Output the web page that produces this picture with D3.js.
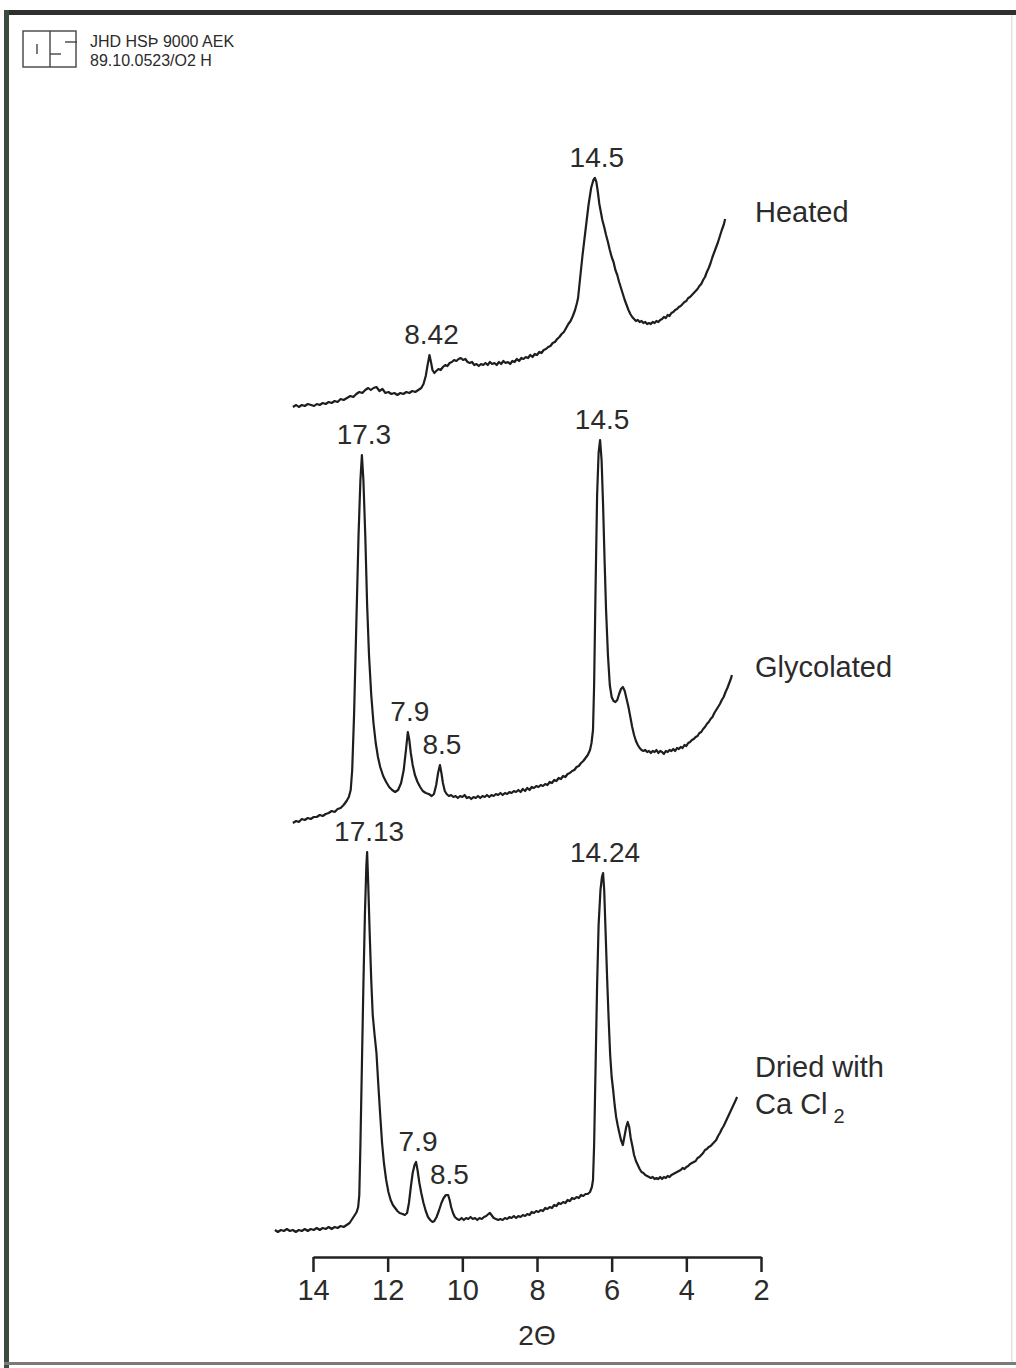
<!DOCTYPE html>
<html>
<head>
<meta charset="utf-8">
<script src="https://cdn.jsdelivr.net/npm/d3@7"></script>
<style>
  html, body { margin: 0; padding: 0; background: #fff; }
  svg { display: block; }
  text { font-family: "Liberation Sans", Arial, sans-serif; fill: #2b2b2b; }
</style>
</head>
<body>
<div id="chart"></div>
<script>
"use strict";

// x axis (2 theta, reversed) ticks
let twoThetaTicks = [14, 12, 10, 8, 6, 4, 2];

// scans as [2theta, intensity above the trace's own baseline]
let heatedScan = [
  [14.54,3],[14.45,5],[14.38,3],[14.3,5],[14.22,4],[14.14,6],[14.05,5],[13.97,4],[13.9,6],[13.82,5],
  [13.74,7],[13.66,6],[13.58,8],[13.5,7],[13.42,9],[13.34,8],[13.26,11],[13.18,10],[13.09,12],[13.0,14],
  [12.92,13],[12.84,16],[12.76,18],[12.68,17],[12.6,20],[12.52,22],[12.45,20],[12.38,22],[12.3,23],[12.22,19],
  [12.14,21],[12.06,17],[11.98,18],[11.9,16],[11.82,17],[11.74,15],[11.66,17],[11.58,16],[11.5,18],[11.42,17],
  [11.34,19],[11.26,18],[11.18,20],[11.1,22],[11.04,26],[10.98,34],[10.93,45],[10.88,55],[10.84,48],[10.8,40],
  [10.75,37],[10.7,39],[10.64,41],[10.58,40],[10.52,43],[10.46,45],[10.4,44],[10.34,47],[10.28,48],[10.22,50],
  [10.16,49],[10.1,51],[10.04,52],[9.98,50],[9.92,51],[9.86,48],[9.8,47],[9.74,48],[9.68,45],[9.62,46],
  [9.56,44],[9.5,46],[9.44,45],[9.38,47],[9.32,45],[9.26,48],[9.2,46],[9.14,47],[9.08,45],[9.02,48],
  [8.96,46],[8.9,49],[8.84,47],[8.78,48],[8.72,46],[8.66,49],[8.6,48],[8.54,51],[8.48,49],[8.42,52],
  [8.36,51],[8.3,53],[8.24,52],[8.18,55],[8.12,53],[8.06,56],[8.0,55],[7.94,58],[7.88,57],[7.82,60],
  [7.76,61],[7.7,63],[7.64,64],[7.58,67],[7.52,68],[7.46,71],[7.4,73],[7.34,76],[7.28,78],[7.22,82],
  [7.16,86],[7.1,89],[7.04,94],[6.98,100],[6.93,107],[6.9,112],[6.85,130],[6.78,155],[6.7,180],[6.62,205],
  [6.55,222],[6.49,230],[6.45,232],[6.41,228],[6.37,218],[6.33,206],[6.29,198],[6.25,190],[6.2,183],[6.15,175],
  [6.1,168],[6.05,160],[6.0,153],[5.95,148],[5.9,140],[5.85,135],[5.8,128],[5.75,122],[5.7,116],[5.65,110],
  [5.6,105],[5.55,100],[5.5,96],[5.45,93],[5.4,91],[5.35,89],[5.3,90],[5.25,88],[5.2,89],[5.15,87],
  [5.1,88],[5.05,86],[5.0,87],[4.95,86],[4.9,88],[4.85,87],[4.8,89],[4.75,88],[4.7,90],[4.65,91],
  [4.6,93],[4.55,92],[4.5,95],[4.45,94],[4.4,97],[4.35,98],[4.3,100],[4.25,101],[4.2,103],[4.15,104],
  [4.1,106],[4.05,108],[4.0,109],[3.95,112],[3.9,113],[3.85,115],[3.8,117],[3.75,119],[3.7,121],[3.65,124],
  [3.6,126],[3.55,130],[3.5,133],[3.45,138],[3.4,142],[3.35,147],[3.3,153],[3.25,158],[3.2,163],[3.15,168],
  [3.1,174],[3.05,180],[3.0,185],[2.96,191]
];

let glycolatedScan = [
  [14.54,2],[14.45,4],[14.38,3],[14.3,6],[14.22,5],[14.14,7],[14.06,6],[13.98,8],[13.9,8],[13.82,10],
  [13.74,9],[13.66,11],[13.58,12],[13.5,14],[13.42,13],[13.34,16],[13.26,17],[13.18,20],[13.1,24],[13.04,28],
  [12.99,35],[12.95,55],[12.9,110],[12.84,200],[12.78,290],[12.73,345],[12.69,370],[12.65,345],[12.6,290],[12.55,220],
  [12.5,170],[12.44,130],[12.38,102],[12.32,82],[12.26,68],[12.2,58],[12.12,49],[12.04,43],[11.96,38],[11.88,35],
  [11.8,33],[11.72,35],[11.64,42],[11.57,55],[11.51,75],[11.46,93],[11.42,85],[11.38,72],[11.33,60],[11.27,50],
  [11.2,43],[11.13,38],[11.06,34],[10.98,32],[10.9,31],[10.82,29],[10.76,31],[10.7,40],[10.65,52],[10.6,60],
  [10.56,52],[10.52,42],[10.47,34],[10.42,31],[10.36,29],[10.3,30],[10.24,28],[10.18,29],[10.12,27],[10.06,29],
  [10.0,28],[9.94,30],[9.88,27],[9.82,28],[9.76,26],[9.7,28],[9.64,27],[9.58,29],[9.52,27],[9.46,29],
  [9.4,28],[9.34,30],[9.28,28],[9.22,30],[9.16,29],[9.1,31],[9.04,30],[8.98,32],[8.92,30],[8.86,32],
  [8.8,31],[8.74,33],[8.68,32],[8.62,34],[8.56,33],[8.5,35],[8.44,33],[8.38,36],[8.32,34],[8.26,37],
  [8.2,35],[8.14,38],[8.08,37],[8.02,39],[7.96,38],[7.9,40],[7.84,39],[7.78,41],[7.72,40],[7.66,43],
  [7.6,42],[7.54,45],[7.48,44],[7.42,47],[7.36,46],[7.3,49],[7.24,48],[7.18,51],[7.12,52],[7.06,54],
  [7.0,55],[6.94,58],[6.88,59],[6.82,62],[6.76,64],[6.7,67],[6.64,70],[6.58,75],[6.54,82],[6.5,95],
  [6.47,140],[6.43,240],[6.39,330],[6.35,372],[6.31,385],[6.27,365],[6.23,320],[6.19,265],[6.15,215],[6.1,170],
  [6.05,140],[6.0,128],[5.95,124],[5.9,123],[5.85,125],[5.8,131],[5.75,136],[5.7,138],[5.65,134],[5.6,126],
  [5.55,118],[5.5,108],[5.45,98],[5.4,90],[5.35,84],[5.3,80],[5.25,77],[5.2,75],[5.15,74],[5.1,75],
  [5.05,73],[5.0,74],[4.95,72],[4.9,74],[4.85,73],[4.8,75],[4.75,72],[4.7,74],[4.65,73],[4.6,71],
  [4.55,74],[4.5,73],[4.45,75],[4.4,74],[4.35,76],[4.3,74],[4.25,77],[4.2,76],[4.15,78],[4.1,77],
  [4.05,80],[4.0,79],[3.95,82],[3.9,83],[3.85,85],[3.8,86],[3.75,88],[3.7,89],[3.65,92],[3.6,93],
  [3.55,96],[3.5,98],[3.45,101],[3.4,103],[3.35,106],[3.3,108],[3.25,112],[3.2,115],[3.15,118],[3.1,121],
  [3.05,125],[3.0,128],[2.95,133],[2.9,137],[2.85,142],[2.8,147],[2.78,150]
];

let driedScan = [
  [15.02,5],[14.94,3],[14.86,5],[14.78,4],[14.7,6],[14.62,4],[14.54,5],[14.46,3],[14.38,5],[14.3,4],
  [14.22,6],[14.14,4],[14.06,6],[13.98,5],[13.9,7],[13.82,5],[13.74,7],[13.66,6],[13.58,8],[13.5,6],
  [13.42,8],[13.34,7],[13.26,9],[13.18,8],[13.1,10],[13.02,12],[12.95,16],[12.88,20],[12.83,23],[12.79,28],
  [12.76,40],[12.73,90],[12.69,170],[12.65,250],[12.61,320],[12.57,370],[12.55,383],[12.52,350],[12.48,300],[12.44,255],
  [12.4,220],[12.35,200],[12.3,182],[12.25,150],[12.2,120],[12.15,92],[12.1,72],[12.04,55],[11.98,43],[11.92,35],
  [11.86,30],[11.8,27],[11.74,24],[11.68,22],[11.6,21],[11.54,20],[11.48,22],[11.43,32],[11.38,48],[11.33,62],
  [11.28,70],[11.24,73],[11.2,65],[11.15,52],[11.1,42],[11.04,32],[10.98,24],[10.92,18],[10.86,15],[10.8,13],
  [10.75,14],[10.69,18],[10.63,24],[10.56,32],[10.5,37],[10.44,40],[10.38,40],[10.34,35],[10.3,28],[10.25,22],
  [10.2,18],[10.14,16],[10.08,15],[10.02,17],[9.96,15],[9.9,17],[9.84,16],[9.78,18],[9.72,16],[9.66,17],
  [9.6,15],[9.54,17],[9.48,16],[9.42,18],[9.36,19],[9.3,21],[9.26,22],[9.22,20],[9.16,17],[9.1,16],
  [9.04,15],[8.98,16],[8.92,15],[8.86,17],[8.8,16],[8.74,18],[8.68,17],[8.62,19],[8.56,17],[8.5,19],
  [8.44,18],[8.38,20],[8.32,19],[8.26,21],[8.2,20],[8.14,23],[8.08,22],[8.02,24],[7.96,23],[7.9,25],
  [7.84,24],[7.78,27],[7.72,26],[7.66,28],[7.6,27],[7.54,30],[7.48,29],[7.42,32],[7.36,31],[7.3,33],
  [7.24,32],[7.18,35],[7.12,34],[7.06,37],[7.0,36],[6.94,38],[6.88,37],[6.82,40],[6.76,39],[6.7,41],
  [6.64,41],[6.58,43],[6.53,48],[6.5,55],[6.47,90],[6.43,170],[6.39,250],[6.35,310],[6.3,345],[6.26,358],
  [6.23,362],[6.2,345],[6.16,300],[6.12,255],[6.08,215],[6.04,180],[6.0,158],[5.96,145],[5.92,130],[5.88,118],
  [5.84,110],[5.8,103],[5.75,95],[5.7,90],[5.66,98],[5.61,108],[5.57,113],[5.53,108],[5.49,97],[5.44,88],
  [5.4,80],[5.35,74],[5.3,70],[5.25,66],[5.2,63],[5.15,62],[5.1,60],[5.05,59],[5.0,58],[4.95,57],
  [4.9,58],[4.85,56],[4.8,57],[4.75,56],[4.7,58],[4.65,56],[4.6,58],[4.55,57],[4.5,59],[4.45,58],
  [4.4,60],[4.35,61],[4.3,62],[4.25,63],[4.2,64],[4.15,65],[4.1,67],[4.05,66],[4.0,68],[3.95,69],
  [3.9,71],[3.85,72],[3.8,73],[3.75,74],[3.7,77],[3.65,78],[3.6,80],[3.55,82],[3.5,85],[3.45,86],
  [3.4,88],[3.35,89],[3.3,91],[3.25,93],[3.2,95],[3.15,99],[3.1,102],[3.05,106],[3.0,109],[2.95,113],
  [2.9,117],[2.85,121],[2.8,125],[2.75,129],[2.7,133],[2.64,138]
];

// peak labels (d-spacing in angstrom) and the 2theta where they sit
let heatedPeaks = [["14.5", 6.45], ["8.42", 10.88]];
let glycolatedPeaks = [["17.3", 12.69], ["14.5", 6.31], ["7.9", 11.46], ["8.5", 10.6]];
let driedPeaks = [["17.13", 12.55], ["14.24", 6.23], ["7.9", 11.24], ["8.5", 10.4]];

let scans = [
  { name: ["Heated"], data: heatedScan, peaks: heatedPeaks, base: 410, labelY: 222 },
  { name: ["Glycolated"], data: glycolatedScan, peaks: glycolatedPeaks, base: 825, labelY: 677 },
  { name: ["Dried with", "Ca Cl"], data: driedScan, peaks: driedPeaks, base: 1235, labelY: 1077 }
];

let width = 1016, height = 1368;
let svg = d3.select("#chart").append("svg").attr("width", width).attr("height", height);

// scanned page frame
svg.append("rect").attr("width", width).attr("height", height).style("fill", "#ffffff");
svg.append("rect").attr("x", 4).attr("y", 10).attr("width", width - 4).attr("height", 5).style("fill", "#2f302e");
svg.append("rect").attr("x", 4).attr("y", 10).attr("width", 5).attr("height", height - 10).style("fill", "#3b4b3e");
svg.append("rect").attr("x", 4).attr("y", 1362).attr("width", width - 4).attr("height", 3).style("fill", "#7a7a7a");
svg.append("rect").attr("x", 1011).attr("y", 15).attr("width", 1.5).attr("height", 1347).style("fill", "#e4e4e4");

// stamp in the corner
let stamp = svg.append("g").style("stroke", "#444").style("stroke-width", 1.4).style("fill", "none");
stamp.append("rect").attr("x", 23).attr("y", 31).attr("width", 53).attr("height", 36);
stamp.append("line").attr("x1", 50).attr("y1", 31).attr("x2", 50).attr("y2", 67);
stamp.append("line").attr("x1", 37).attr("y1", 44).attr("x2", 37).attr("y2", 54);
stamp.append("line").attr("x1", 50).attr("y1", 54).attr("x2", 61).attr("y2", 54);
stamp.append("line").attr("x1", 65).attr("y1", 42).attr("x2", 77).attr("y2", 42);
svg.append("text").attr("x", 90).attr("y", 47).style("font-size", "16px").text("JHD HSÞ 9000 AEK");
svg.append("text").attr("x", 90).attr("y", 66).style("font-size", "16px").text("89.10.0523/O2 H");

let x = d3.scaleLinear().domain([14, 2]).range([313, 761]);

let line = d3.line();

scans.forEach(scan => {
  let y = d3.scaleLinear().domain([0, 400]).range([scan.base, scan.base - 400]);
  line.x(d => x(d[0])).y(d => y(d[1]));

  svg.append("path").datum(scan.data)
    .attr("d", line)
    .style("fill", "none").style("stroke", "#1e1e1e")
    .style("stroke-width", 2.2).style("stroke-linejoin", "round");

  scan.peaks.forEach(p => {
    // find the highest point near the labelled position
    let near = scan.data.filter(d => Math.abs(d[0] - p[1]) < 0.08);
    let top = d3.max(near, d => d[1]);
    svg.append("text")
      .attr("x", x(p[1]) + 2).attr("y", y(top) - 11)
      .attr("text-anchor", "middle").style("font-size", "28px")
      .text(p[0]);
  });

  scan.name.forEach((n, i) => {
    let t = svg.append("text").attr("x", 755).attr("y", scan.labelY + i * 37)
      .style("font-size", "29px").text(n);
    if (n === "Ca Cl") {
      t.append("tspan").attr("dx", 6).attr("dy", 9).style("font-size", "20px").text("2");
    }
  });
});

// 2theta axis
let axisY = 1257;
let xAxis = d3.axisBottom(x).tickValues(twoThetaTicks).tickSize(15).tickSizeOuter(0).tickPadding(7);
let axisG = svg.append("g").attr("transform", `translate(0,${axisY})`).call(xAxis);
axisG.select(".domain").style("stroke", "#222").style("stroke-width", 2.5);
axisG.selectAll(".tick line").style("stroke", "#222").style("stroke-width", 2.5);
axisG.selectAll(".tick text").style("font-size", "29px").style("fill", "#2b2b2b")
  .style("font-family", "'Liberation Sans', Arial, sans-serif");

svg.append("text").attr("x", 537).attr("y", 1345).attr("text-anchor", "middle")
  .style("font-size", "28px").text("2Θ");
</script>
</body>
</html>
